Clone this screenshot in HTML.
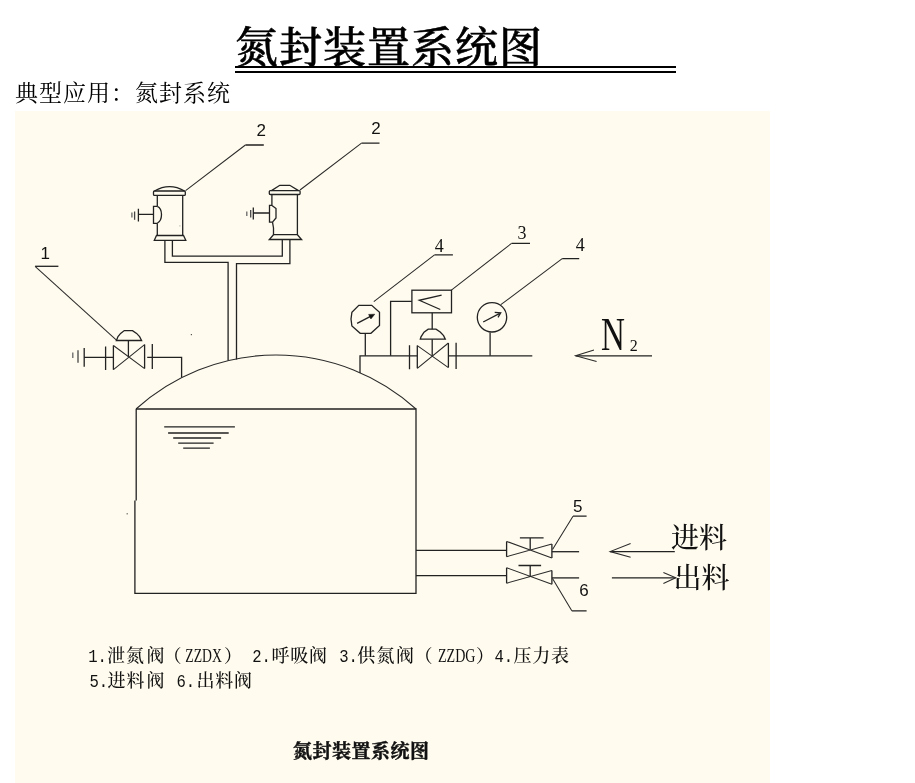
<!DOCTYPE html>
<html lang="zh-CN">
<head>
<meta charset="utf-8">
<title>氮封装置系统图</title>
<style>
html,body{margin:0;padding:0;background:#fff;}
body{width:915px;height:783px;position:relative;overflow:hidden;color:#000;
  font-family:"Liberation Serif","Noto Serif CJK SC",serif;}
.title,.sub,svg{will-change:transform;}
.title{position:absolute;left:235px;top:19px;width:441px;height:60px;margin:0;
  font-size:43px;line-height:60px;font-weight:500;-webkit-text-stroke:0.6px #000;white-space:pre;letter-spacing:1px;}
.ul{position:absolute;left:235px;width:441px;height:2px;background:#000;}
.sub{position:absolute;left:15px;top:79px;margin:0;font-size:23px;line-height:30px;font-weight:400;letter-spacing:1px;white-space:nowrap;}
.fig{position:absolute;left:15px;top:111px;width:755px;height:672px;background:#fffbee;}
svg{position:absolute;left:0;top:0;}
svg .l{fill:none;stroke:#222;stroke-width:1.3;stroke-linecap:butt;stroke-linejoin:miter;}
svg .d{fill:none;stroke:#2a2a2a;stroke-width:1.05;}
svg .g{fill:none;stroke:#444;stroke-width:1.3;}
svg text{fill:#111;}
.sans{font-family:"Liberation Sans",sans-serif;}
.serif{font-family:"Liberation Serif",serif;}
.mono{font-family:"Liberation Mono",monospace;}
.cjk{font-family:"Liberation Serif","Noto Serif CJK SC",serif;}
</style>
</head>
<body>
<h1 class="title">氮封装置系统图</h1>
<div class="ul" style="top:66px"></div>
<div class="ul" style="top:71px"></div>
<p class="sub">典型应用：氮封系统</p>
<div class="fig"></div>
<svg width="915" height="783" viewBox="0 0 915 783">
<!-- breather valve A -->
<g class="l">
  <path d="M154.5,191 Q169.5,182.2 184.5,191"/>
  <rect x="153.5" y="191" width="31.8" height="4.4" rx="1"/>
  <path d="M157.3,195.4 V206.3 M157.3,223.3 V235.5 M182.7,195.4 V235.5"/>
  <path d="M156.5,235.5 H183.5 L185.8,240.3 H154.3 Z"/>
  <path d="M157.3,206.3 H153.5 V223.3 H157.3"/>
  <path d="M157.3,206.3 Q161.5,208 161.5,214.6 Q161.5,221 157.3,223.3"/>
  <path d="M138.4,214.4 H153.5 M138.4,208.8 V221.5"/>
</g>
<g class="g"><path d="M134.6,211.5 V219.8"/><path d="M131.9,212.5 V217.5" stroke="#666"/></g>
<!-- breather valve B -->
<g class="l">
  <path d="M271.5,190.6 L279.8,185.3 H289.8 L298.5,190.6"/>
  <rect x="269.3" y="190.6" width="30.8" height="3.9" rx="1"/>
  <path d="M271.9,194.5 V205.4 M272.5,222.2 L273.5,228 V234.7 M297.4,194.5 V234.7"/>
  <path d="M273.5,234.7 H297.4 L301.6,239.5 H269.3 Z"/>
  <path d="M272,205.4 H269.5 V222.2 H272.5"/>
  <path d="M272,205.4 L276,208.5 V218 L272.5,222.2"/>
  <path d="M253.3,213 H269.5 M253.3,207.5 V219.5"/>
</g>
<g class="g"><path d="M250.7,210 V217.5"/><path d="M246.8,211.5 V216" stroke="#666"/></g>
<!-- manifold -->
<g class="l">
  <path d="M172.4,240.3 V256.2 H282.3 V239.5"/>
  <path d="M164.9,240.3 V262.3 H228.1 V360.5"/>
  <path d="M289.9,239.5 V263.6 H236.5 V359.5"/>
</g>
<!-- leaders for 2 -->
<g class="l"><path d="M263.8,145 H245.4 M379.5,143.2 H361.5"/></g>
<g class="d"><path d="M245.4,145 L185.6,190.6 M361.5,143.2 L300,190"/></g>
<text class="sans" x="256.5" y="135.6" font-size="17">2</text>
<text class="sans" x="371.3" y="134.4" font-size="17">2</text>
<!-- label 1 -->
<g class="l"><path d="M58.4,266.3 H35.1"/></g>
<g class="d"><path d="M35.1,266.3 L117,340.6"/></g>
<text class="sans" x="40.5" y="259.4" font-size="17">1</text>
<!-- valve 1 -->
<g class="l">
  <path d="M116.4,340.5 L118,336.6 L120.6,333.4 L124.3,330.6 H132.5 L136.6,333.4 L139.6,336.6 L141.6,340.5 Z"/>
  <path d="M128.4,340.5 V357"/>
  <path d="M113.4,345.5 V369.7 M144.6,344.6 V368.6"/>
  <path class="d" d="M113.4,369.7 L144.6,344.6 M144.6,368.6 L113.4,345.5"/>
  <path d="M105.6,346.4 V370 M152.3,344 V368.9"/>
  <path d="M84.2,357.3 H113.4 M84.2,347.9 V366.7"/>
  <path d="M147.2,357.3 H181.6 V377.4"/>
</g>
<g class="g"><path d="M78,350.2 V362.7"/><path d="M72.8,352.5 V358" stroke="#666"/></g>
<!-- tank -->
<g class="l">
  <path class="d" d="M136,409 A208.5,208.5 0 0 1 416,409"/>
  <path d="M136,409 H416 V593.3 H134.9 V500.4 M136.2,500.4 V409"/>
  <path d="M164.2,426.8 H234.9 M168.1,433 H228.7 M173.2,438 H221.1 M178.2,443.1 H213.6 M183.2,448.1 H209.9"/>
</g>
<!-- nitrogen supply -->
<g class="l">
  <path d="M358.8,305.3 H371.7 L379.5,312.2 V325.5 L370.9,333.3 H360.2 L351.9,326 L351,319.1 L351.9,312.2 Z"/>
  <path d="M357.1,323.4 L371,316.2"/>
  <path d="M365.3,333.5 V355.8"/>
  <path d="M360,373.1 V355.8 H417.4"/>
  <path d="M390.6,355.8 V301.4 H411.9"/>
  <rect x="411.9" y="290.2" width="39.6" height="22.6"/>
  <path d="M441.6,295.1 L419.3,300.3 L440.3,309.5"/>
  <path d="M432.2,312.8 V329.2 M432.2,339.3 V355.8"/>
  <path d="M420.3,339.2 L421,336.8 L424,332.2 L428.2,329.2 H436 L440.2,332 L443.6,335.6 L445.3,339.2 Z"/>
  <path d="M417.3,345.6 V368.3 M448.4,343 V367.6"/>
  <path class="d" d="M417.3,368.3 L448.4,343 M448.4,367.6 L417.3,345.6"/>
  <path d="M409.5,345.2 V369.2 M456.1,342.8 V369"/>
  <path d="M448.5,355.8 H532.3"/>
  <circle cx="492" cy="317.3" r="14.7"/>
  <path d="M483.2,322 L500.7,312.8 M494.7,312.4 L500.7,312.8 L498,317.3"/>
  <path d="M490.1,332.5 V355.8"/>
  <path d="M452.9,254.8 H434.5 M530,243.4 H511.5 M579.2,258.7 H562.2 M652,355.8 H575.6"/>
  <path class="d" d="M434.5,254.8 L373.8,301.6 M511.5,243.4 L451.4,290.2 M562.2,258.7 L500.8,304.7 M594,350.1 L575.6,355.8 L596.6,361.4"/>
</g>
<path d="M374.8,314.2 L368.6,314.4 L370.9,319 Z" fill="#111" stroke="#111" stroke-width="0.5"/>
<text class="serif" x="434.8" y="251.8" font-size="18">4</text>
<text class="serif" x="517.6" y="239" font-size="18">3</text>
<text class="serif" x="575.8" y="251" font-size="18">4</text>
<text class="serif" transform="translate(600.9,350.4) scale(0.72,1)" font-size="46" fill="#2a2a2a">N</text>
<text class="serif" x="629.8" y="351.4" font-size="16">2</text>
<!-- in/out valves -->
<g class="l">
  <path d="M416,550.3 H506.6 M416,575.7 H506.6"/>
  <path d="M506.6,541.4 V556.7 M551.9,543.9 V558"/>
  <path class="d" d="M506.6,556.7 L551.9,543.9 M551.9,558 L506.6,541.4"/>
  <path d="M530.2,537.8 V549.7 M519.9,537.8 H543.6"/>
  <path d="M551.9,551.7 H579.1"/>
  <path d="M506.6,567.7 V583.2 M551.9,570.5 V584.2"/>
  <path class="d" d="M506.6,583.2 L551.9,570.5 M551.9,584.2 L506.6,567.7"/>
  <path d="M530.2,565.5 V576.3 M518.5,565.5 H541.1"/>
  <path d="M551.9,577.9 H579.1"/>
  <path d="M586.6,516.2 H573 M586.6,610.8 H571.8 M674.8,551.6 H610.1 M611.9,577.8 H675.7"/>
  <path class="d" d="M573,516.2 L552.5,549.5 M571.8,610.8 L552.5,578.5 M630.6,543.6 L610.1,551.6 L630.6,557.2 M663.4,572.6 L675.7,577.8 L663.4,583.4"/>
</g>
<text class="sans" x="573" y="511.6" font-size="17">5</text>
<text class="sans" x="579.3" y="596.2" font-size="17">6</text>
<text class="cjk" x="671" y="548" font-size="28" font-weight="500">进料</text>
<text class="cjk" x="673.5" y="588" font-size="28" font-weight="500">出料</text>
<!-- stray specks -->
<g fill="#555"><rect x="190.8" y="334" width="1.2" height="1.2"/><rect x="126.6" y="513.2" width="1.2" height="1.2"/><rect x="179.4" y="225.4" width="1" height="1" fill="#999"/></g>
<!-- legend -->
<g class="cjk" font-size="18" font-weight="500" style="letter-spacing:0.75px">
<text x="107 126 146.5" y="661.6">泄氮阀</text>
<text x="163.5" y="661.6">（</text>
<text x="224" y="661.6">）</text>
<text x="271.5" y="661.6">呼吸阀</text>
<text x="357.2 376.5 396" y="661.6">供氮阀</text>
<text x="414.5" y="661.6">（</text>
<text x="476" y="661.6">）</text>
<text x="513.5" y="661.6">压力表</text>
<text x="107.5 126.5 146.5" y="686.8">进料阀</text>
<text x="196.5" y="686.8">出料阀</text>
</g>
<g class="mono" font-size="18.75">
<text transform="translate(88.2,662) scale(0.833,1)">1.</text>
<text class="serif" x="185.3" y="662" textLength="36.5" lengthAdjust="spacingAndGlyphs">ZZDX</text>
<text transform="translate(252.2,662) scale(0.833,1)">2.</text>
<text transform="translate(339.2,662) scale(0.833,1)">3.</text>
<text class="serif" x="438" y="662" textLength="37.5" lengthAdjust="spacingAndGlyphs">ZZDG</text>
<text transform="translate(494.5,662) scale(0.833,1)">4.</text>
<text transform="translate(89.5,687.2) scale(0.833,1)">5.</text>
<text transform="translate(176.5,687.2) scale(0.833,1)">6.</text>
</g>
<text class="cjk" x="293" y="758" font-size="19" font-weight="700" stroke="#111" stroke-width="0.45" textLength="136">氮封装置系统图</text>

</svg>
</body>
</html>
